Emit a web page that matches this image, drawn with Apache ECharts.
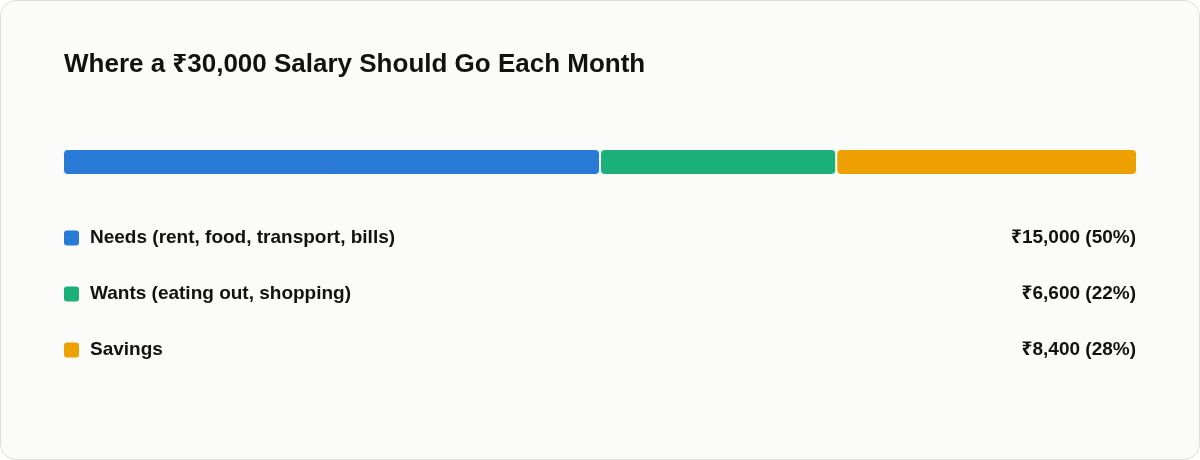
<!DOCTYPE html>
<html>
<head>
<meta charset="utf-8">
<script src="https://cdn.jsdelivr.net/npm/echarts@6/dist/echarts.min.js"></script>
<style>
  html, body { margin: 0; padding: 0; background: #ffffff; }
  .card {
    position: absolute; left: 0; top: 0;
    width: 1198px; height: 458px;
    border: 1px solid #dedede; border-radius: 16px;
    background: #fbfbf9; overflow: hidden;
  }
  #chart { width: 1198px; height: 458px; }
</style>
</head>
<body>
<div class="card"><div id="chart"></div></div>
<script>
// 数据
const categories = ['Needs (rent, food, transport, bills)', 'Wants (eating out, shopping)', 'Savings']
const amounts = [15000, 6600, 8400]
const percents = [50, 22, 28]
const colors = ['#2979d6', '#1bb07a', '#eea000']
const total = 30000

const font = '"Liberation Sans", Arial, "Noto Sans", sans-serif'
const chart = echarts.init(document.getElementById('chart'))

// 图例行：色块 + 名称 + 右侧数值
const rows = []
categories.forEach((name, i) => {
  const cy = 237 + i * 56
  rows.push({
    type: 'rect', x: 63, y: cy - 7.5,
    shape: { width: 15, height: 15, r: 3 },
    style: { fill: colors[i] }
  })
  rows.push({
    type: 'text', x: 89, y: cy,
    style: { text: name, fill: '#111111', font: 'bold 19px ' + font, verticalAlign: 'middle' }
  })
  rows.push({
    type: 'text', x: 1135, y: cy,
    style: {
      text: '₹' + amounts[i].toLocaleString('en-US') + ' (' + percents[i] + '%)',
      fill: '#111111', font: 'bold 19px ' + font, align: 'right', verticalAlign: 'middle'
    }
  })
})

chart.setOption({
  animation: false,
  title: {
    text: 'Where a ₹30,000 Salary Should Go Each Month',
    left: 63, top: 51, padding: 0,
    textStyle: { fontSize: 26, fontWeight: 'bold', color: '#111111', fontFamily: font }
  },
  grid: { left: 62, right: 62, top: 148, height: 26 },
  xAxis: { type: 'value', min: 0, max: total, show: false },
  yAxis: { type: 'category', data: ['salary'], show: false },
  series: categories.map((name, i) => ({
    name: name,
    type: 'bar',
    stack: 'total',
    barWidth: 26,
    data: [amounts[i]],
    itemStyle: { color: colors[i], borderRadius: 4, borderColor: '#ffffff', borderWidth: 1 }
  })),
  graphic: rows
})
</script>
</body>
</html>
